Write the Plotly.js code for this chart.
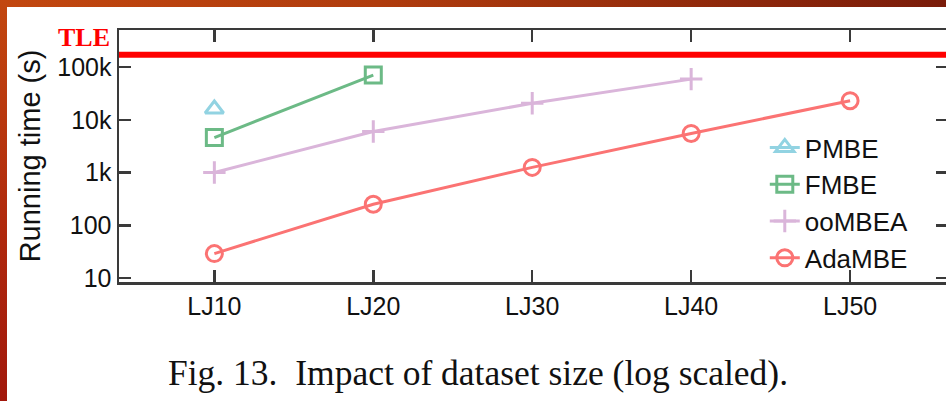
<!DOCTYPE html>
<html>
<head>
<meta charset="utf-8">
<script src="https://cdn.plot.ly/plotly-3.0.1.min.js"></script>
<style>
html, body { margin: 0; padding: 0; overflow: hidden; width: 946px; height: 401px; background: #ffffff; }
#frame { position: absolute; left: 0; top: 0; width: 946px; height: 401px; background: #ffffff; overflow: hidden; }
#topband { position: absolute; left: 0; top: 0; width: 946px; height: 7px; background: linear-gradient(to right, #c2470f 0%, #b03c0d 40%, #7a1c0a 100%); z-index: 5; }
#leftband { position: absolute; left: 0; top: 0; width: 7px; height: 401px; background: linear-gradient(to bottom, #c2470f 0%, #b02a0d 55%, #a2180c 100%); z-index: 5; }
#chart { position: absolute; left: 0; top: 0; width: 960px; height: 401px; }
</style>
</head>
<body>
<div id="frame">
  <div id="chart"></div>
  <div id="topband"></div>
  <div id="leftband"></div>
</div>
<script>
// ---- data ----
const categories = ['LJ10', 'LJ20', 'LJ30', 'LJ40', 'LJ50'];
const pmbe   = [16000, null, null, null, null];
const fmbe   = [4600, 70500, null, null, null];
const oombea = [1000, 6000, 20500, 59000, null];
const adambe = [29, 250, 1250, 5500, 23000];
const seriesNames = ['PMBE', 'FMBE', 'ooMBEA', 'AdaMBE'];
const yTickVals = [10, 100, 1000, 10000, 100000];
const yTickText = ['10', '100', '1k', '10k', '100k'];
const tleValue = 170000;
const tleLabel = 'TLE';
const captionText = 'Fig. 13.  Impact of dataset size (log scaled).';

const colors = ['#92d3e2', '#6cba86', '#dab5da', '#fb7373'];
const symbols = ['triangle-up-open', 'square-open', 'cross-thin-open', 'circle-open'];
const sizes = [16, 16, 16, 16];
const values = [pmbe, fmbe, oombea, adambe];

const traces = values.map((v, i) => ({
  x: categories,
  y: v,
  name: seriesNames[i],
  type: 'scatter',
  mode: 'lines+markers',
  connectgaps: false,
  line: { color: colors[i], width: 3 },
  marker: { symbol: symbols[i], size: sizes[i], color: colors[i],
            line: { color: colors[i], width: 3 } }
}));

const axisColor = '#3a3a3a';
const layout = {
  width: 960,
  height: 401,
  margin: { l: 119, r: 12, t: 30, b: 119 },
  paper_bgcolor: 'rgba(0,0,0,0)',
  plot_bgcolor: 'rgba(0,0,0,0)',
  font: { family: 'Liberation Sans, Arial, sans-serif', color: '#111111' },
  showlegend: true,
  legend: {
    x: 0.779, xanchor: 'left', y: 0.627, yanchor: 'top',
    bgcolor: 'rgba(0,0,0,0)',
    font: { size: 26, family: 'Liberation Sans, Arial, sans-serif', color: '#111111' },
    tracegroupgap: 0
  },
  xaxis: {
    type: 'category',
    categoryorder: 'array',
    categoryarray: categories,
    range: [-0.6, 4.616],
    showline: true, linecolor: axisColor, linewidth: 2.5,
    mirror: 'ticks',
    ticks: 'inside', ticklen: 12, tickwidth: 2.5, tickcolor: axisColor,
    showgrid: false, zeroline: false,
    tickfont: { size: 25, color: '#111111' },
    automargin: false
  },
  yaxis: {
    type: 'log',
    range: [0.924, 5.702],
    tickvals: yTickVals,
    ticktext: yTickText,
    showline: true, linecolor: axisColor, linewidth: 2.5,
    mirror: 'ticks',
    ticks: 'inside', ticklen: 12, tickwidth: 2.5, tickcolor: axisColor,
    showgrid: false, zeroline: false,
    tickfont: { size: 25, color: '#111111' },
    title: { text: 'Running time (s)', font: { size: 29, color: '#111111' }, standoff: 8 },
    automargin: false
  },
  shapes: [{
    type: 'line', xref: 'paper', x0: 0, x1: 1.02,
    yref: 'y', y0: tleValue, y1: tleValue,
    line: { color: '#ff0000', width: 6 }
  }],
  annotations: [
    {
      text: tleLabel, xref: 'paper', yref: 'paper',
      x: -0.042, y: 0.972, xanchor: 'center', yanchor: 'middle',
      showarrow: false,
      font: { family: 'Liberation Serif, Times New Roman, serif', size: 26, color: '#ff0000', weight: 'bold' }
    },
    {
      text: captionText, xref: 'paper', yref: 'paper',
      x: 0.433, y: -0.362, xanchor: 'center', yanchor: 'middle',
      showarrow: false,
      font: { family: 'Liberation Serif, Times New Roman, serif', size: 35.5, color: '#111111' }
    }
  ]
};

Plotly.newPlot('chart', traces, layout, { displayModeBar: false, staticPlot: true });
</script>
</body>
</html>
